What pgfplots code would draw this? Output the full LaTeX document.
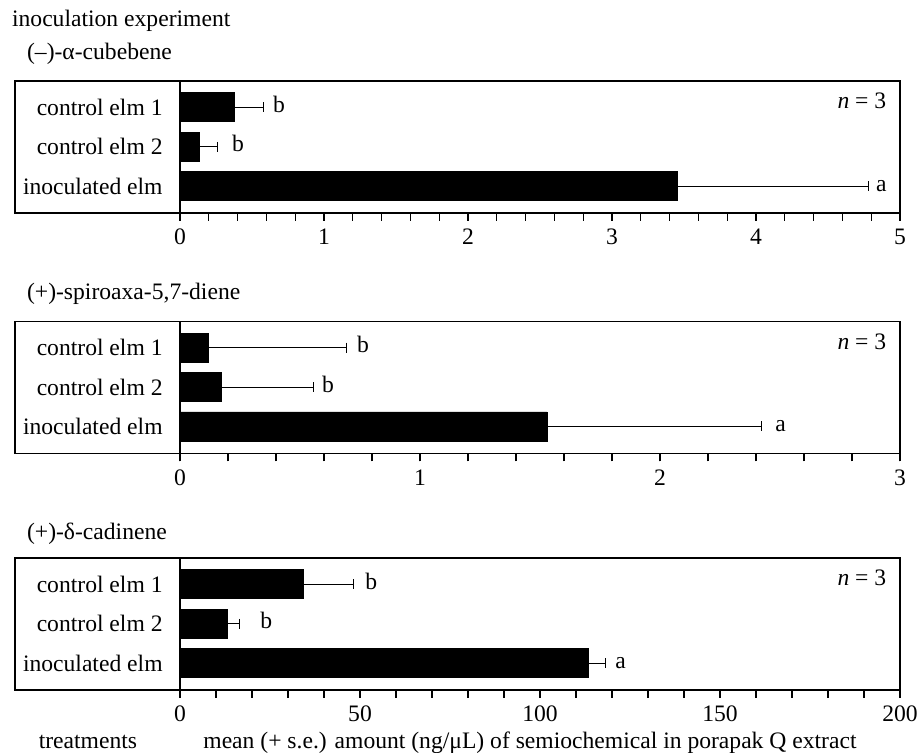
\documentclass[border=0pt]{standalone}
\usepackage{pgfplots}
\pgfplotsset{compat=1.18}
\usepackage{fontspec}
\setmainfont{Liberation Serif}

\pgfplotstableread{
c v e
2 0.377 0.201
1 0.133 0.127
0 3.456 1.324
}\cubebene
\pgfplotstableread{
c v e
2 0.118 0.574
1 0.174 0.382
0 1.529 0.895
}\spiro
\pgfplotstableread{
c v e
2 34.4 13.9
1 13.1 3.4
0 113.5 4.7
}\cadinene

\pgfplotsset{panel/.style={
  scale only axis, width=442.5pt, height=66pt,
  ymin=-0.68, ymax=2.67, ytick=\empty,
  xtick pos=left, tick align=outside,
  major tick length=4pt, minor tick length=4pt,
  axis line style={line width=0.6pt, black},
  tick style={line width=0.6pt, black},
  xbar, bar width=14.5pt,
  /pgf/number format/assume math mode=true,
  xticklabel style={font=\fontsize{11.8pt}{14pt}\selectfont},
  clip=false,
},
bars/.style={fill=black, draw=black, line width=0.4pt,
  error bars/.cd, x dir=plus, x explicit,
  error mark=|,
  error bar style={line width=0.5pt, black},
  error mark options={black, mark size=2.5pt, line width=0.5pt}},
}
\tikzset{
catlab/.style={anchor=base east, inner sep=0pt, xshift=-8.5pt, yshift=-4pt},
letlab/.style={anchor=base west, inner sep=0pt, yshift=-2.5pt},
}

\begin{document}
\fontsize{11.8pt}{14pt}\selectfont
\begin{tikzpicture}[font=\fontsize{11.8pt}{14pt}\selectfont]
\path[use as bounding box] (0,0) rectangle (459.5pt,376.5pt);

\node[anchor=base west, inner sep=0pt] at (5.85pt,363.15pt) {inoculation experiment};
\node[anchor=base west, inner sep=0pt] at (13.35pt,346.5pt) {(–)-α-cubebene};
\node[anchor=base west, inner sep=0pt] at (13.35pt,226.8pt) {(+)-spiroaxa-5,7-diene};
\node[anchor=base west, inner sep=0pt] at (13.35pt,106.85pt) {(+)-δ-cadinene};
\node[anchor=base west, inner sep=0pt] at (19.2pt,2pt) {treatments};
\node[anchor=base west, inner sep=0pt] at (101.5pt,2pt) {mean (+ s.e.) amount (ng/μL) of semiochemical in porapak Q extract};

% panel 1
\begin{axis}[panel, at={(7.5pt,270pt)}, anchor=south west,
  xmin=-1.1458, xmax=5, xtick={0,1,2,3,4,5}, minor xtick={0,0.2,...,5}]
\addplot[bars] table[x=v, y=c, x error=e] {\cubebene};
\draw[line width=0.6pt] (axis cs:0,-0.68) -- (axis cs:0,2.67);
\node[catlab] at (axis cs:0,2) {control elm 1};
\node[catlab] at (axis cs:0,1) {control elm 2};
\node[catlab] at (axis cs:0,0) {inoculated elm};
\node[letlab] at (axis cs:0.644,2) {b};
\node[letlab] at (axis cs:0.359,1) {b};
\node[letlab] at (axis cs:4.831,0) {a};
\node[anchor=base east, inner sep=0pt] at ([xshift=-6.7pt,yshift=-14pt]rel axis cs:1,1) {\textit{n} = 3};
\end{axis}

% panel 2
\begin{axis}[panel, at={(7.5pt,149.85pt)}, anchor=south west,
  xmin=-0.6875, xmax=3, xtick={0,1,2,3}, minor xtick={0,0.2,...,3}]
\addplot[bars] table[x=v, y=c, x error=e] {\spiro};
\draw[line width=0.6pt] (axis cs:0,-0.68) -- (axis cs:0,2.67);
\node[catlab] at (axis cs:0,2) {control elm 1};
\node[catlab] at (axis cs:0,1) {control elm 2};
\node[catlab] at (axis cs:0,0) {inoculated elm};
\node[letlab] at (axis cs:0.736,2) {b};
\node[letlab] at (axis cs:0.590,1) {b};
\node[letlab] at (axis cs:2.479,0) {a};
\node[anchor=base east, inner sep=0pt] at ([xshift=-6.7pt,yshift=-14pt]rel axis cs:1,1) {\textit{n} = 3};
\end{axis}

% panel 3
\begin{axis}[panel, at={(7.5pt,31.5pt)}, anchor=south west,
  xmin=-45.833, xmax=200, xtick={0,50,100,150,200}, minor xtick={0,10,...,200}]
\addplot[bars] table[x=v, y=c, x error=e] {\cadinene};
\draw[line width=0.6pt] (axis cs:0,-0.68) -- (axis cs:0,2.67);
\node[catlab] at (axis cs:0,2) {control elm 1};
\node[catlab] at (axis cs:0,1) {control elm 2};
\node[catlab] at (axis cs:0,0) {inoculated elm};
\node[letlab] at (axis cs:51.4,2) {b};
\node[letlab] at (axis cs:22.2,1) {b};
\node[letlab] at (axis cs:120.8,0) {a};
\node[anchor=base east, inner sep=0pt] at ([xshift=-6.7pt,yshift=-14pt]rel axis cs:1,1) {\textit{n} = 3};
\end{axis}
\end{tikzpicture}
\end{document}
